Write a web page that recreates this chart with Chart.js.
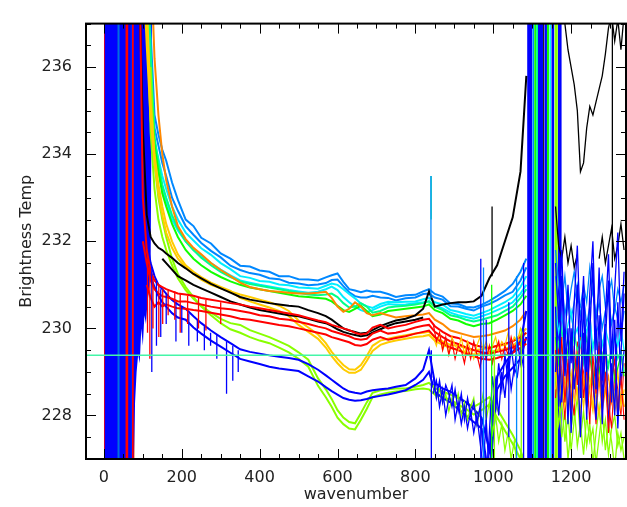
<!DOCTYPE html>
<html>
<head>
<meta charset="utf-8">
<script src="https://cdn.jsdelivr.net/npm/chart.js@4.4.1/dist/chart.umd.min.js"></script>
<style>
  html, body { margin: 0; padding: 0; background: #fff; }
  canvas { display: block; }
</style>
</head>
<body>
<canvas id="myChart" width="627" height="507"></canvas>
<script>
// wavenumber grid for the smooth part of the spectra
const X = [92, 100, 110, 120, 130, 140, 150, 160, 175, 190,
  210, 230, 250, 275, 300, 325, 350, 375, 400, 425,
  450, 475, 500, 525, 550, 570, 585, 600, 615, 630,
  645, 660, 675, 690, 710, 730, 750, 775, 800, 820,
  835, 850, 870, 890, 910, 930, 950, 970, 990, 1010,
  1030, 1050, 1070, 1085];
// finer grid for the noisy stretch before the saturated band
const XN = [846, 854, 862, 870, 878, 886, 894, 902, 910, 918, 926, 934, 942, 950, 958,
  966, 974, 982, 990, 998, 1006, 1014, 1022, 1030, 1038, 1046, 1054, 1062, 1070, 1078];
// wavenumber grid for the noisy end
const XR = [1160, 1168, 1176, 1184, 1192, 1200, 1208, 1216, 1224, 1232, 1240, 1248,
  1256, 1264, 1272, 1280, 1288, 1296, 1304, 1312, 1320, 1328, 1336];

const skyBlue1 = [null, null, 239.0, 236.8, 234.9, 234.45, 234.1, 233.85, 233.35, 232.95,
  232.5, 232.35, 232.08, 231.95, 231.72, 231.6, 231.44, 231.42, 231.33, 231.3,
  231.2, 231.2, 231.13, 231.12, 231.1, 231.17, 231.22, 231.26, 231.07, 230.9,
  230.87, 230.83, 230.87, 230.84, 230.84, 230.79, 230.72, 230.76, 230.77, 230.85,
  230.9, 230.79, 230.73, 230.57, 230.56, 230.49, 230.48, 230.54, 230.63, 230.74,
  230.86, 231.02, 231.3, 231.6];
const skyBlue2 = [null, null, 238.5, 236.2, 234.6, 234.2, 233.8, 233.5, 233.0, 232.7,
  232.35, 232.15, 231.96, 231.78, 231.63, 231.44, 231.34, 231.27, 231.23, 231.15,
  231.13, 231.05, 231.03, 230.99, 231.01, 231.04, 231.11, 231.12, 230.97, 230.83,
  230.74, 230.71, 230.71, 230.75, 230.71, 230.7, 230.64, 230.69, 230.71, 230.79,
  230.8, 230.71, 230.66, 230.51, 230.5, 230.45, 230.41, 230.5, 230.56, 230.65,
  230.76, 230.84, 231.1, 231.4];
const cyan1 = [null, 239.0, 237.2, 236.0, 234.3, 233.9, 233.5, 233.2, 232.8, 232.5,
  232.2, 232.02, 231.84, 231.69, 231.5, 231.36, 231.2, 231.16, 231.09, 231.07,
  231.01, 230.99, 230.94, 230.93, 230.91, 230.98, 231.03, 231.0, 230.9, 230.79,
  230.69, 230.57, 230.51, 230.47, 230.56, 230.61, 230.6, 230.61, 230.62, 230.67,
  230.7, 230.6, 230.55, 230.42, 230.38, 230.33, 230.29, 230.35, 230.42, 230.51,
  230.6, 230.72, 230.95, 231.2];
const cyan2 = [null, null, 238.0, 235.5, 234.0, 233.6, 233.2, 232.9, 232.5, 232.25,
  232.0, 231.8, 231.66, 231.5, 231.35, 231.22, 231.1, 231.05, 231.0, 230.96,
  230.92, 230.88, 230.85, 230.82, 230.84, 230.9, 230.96, 230.88, 230.72, 230.6,
  230.5, 230.42, 230.38, 230.42, 230.5, 230.56, 230.54, 230.55, 230.58, 230.6,
  230.62, 230.52, 230.46, 230.36, 230.3, 230.26, 230.22, 230.28, 230.34, 230.42,
  230.5, 230.6, 230.8, 231.0];
const spring1 = [null, null, 238.6, 236.4, 234.4, 233.8, 233.3, 233.0, 232.6, 232.3,
  232.0, 231.8, 231.62, 231.45, 231.3, 231.18, 231.08, 231.02, 230.98, 230.94,
  230.9, 230.86, 230.82, 230.78, 230.76, 230.78, 230.8, 230.72, 230.58, 230.48,
  230.5, 230.58, 230.5, 230.36, 230.4, 230.48, 230.5, 230.52, 230.55, 230.58,
  230.62, 230.5, 230.42, 230.3, 230.26, 230.2, 230.16, 230.2, 230.25, 230.3,
  230.4, 230.5, 230.7, 230.9];
const green1 = [null, 238.5, 237.0, 235.6, 234.2, 233.6, 233.1, 232.8, 232.4, 232.1,
  231.8, 231.6, 231.45, 231.3, 231.18, 231.08, 231.0, 230.94, 230.9, 230.86,
  230.82, 230.78, 230.74, 230.72, 230.7, 230.68, 230.62, 230.52, 230.42, 230.38,
  230.45, 230.52, 230.4, 230.28, 230.32, 230.4, 230.42, 230.45, 230.48, 230.5,
  230.55, 230.42, 230.35, 230.22, 230.18, 230.1, 230.05, 230.1, 230.12, 230.2,
  230.3, 230.4, 230.55, 230.75];
const orange1 = [null, null, null, 238.6, 236.2, 234.9, 234.0, 233.4, 232.8, 232.35,
  232.05, 231.85, 231.7, 231.5, 231.34, 231.2, 231.05, 230.95, 230.9, 230.86,
  230.84, 230.82, 230.8, 230.8, 230.82, 230.84, 230.7, 230.5, 230.38, 230.45,
  230.6, 230.5, 230.35, 230.3, 230.35, 230.3, 230.25, 230.28, 230.3, 230.32,
  230.35, 230.2, 230.1, 229.95, 229.9, 229.85, 229.8, 229.82, 229.85, 229.9,
  229.95, 230.05, 230.2, 230.4];
const yellow1 = [null, 238.5, 236.5, 234.8, 233.8, 233.1, 232.6, 232.2, 231.85, 231.6,
  231.4, 231.25, 231.12, 231.0, 230.92, 230.85, 230.78, 230.72, 230.66, 230.6,
  230.52, 230.4, 230.18, 230.02, 229.86, 229.66, 229.46, 229.3, 229.16, 229.06,
  229.05, 229.16, 229.36, 229.6, 229.72, 229.76, 229.8, 229.84, 229.88, 229.9,
  229.92, 229.8, 229.7, 229.62, 229.6, 229.55, 229.5, 229.52, 229.55, 229.6,
  229.62, 229.7, 229.85, 230.0];
const yellow2 = [null, null, 237.5, 235.2, 234.0, 233.3, 232.8, 232.4, 232.0, 231.7,
  231.45, 231.3, 231.18, 231.05, 230.95, 230.86, 230.7, 230.62, 230.55, 230.48,
  230.4, 230.28, 230.08, 229.92, 229.76, 229.56, 229.36, 229.2, 229.06, 228.98,
  228.98, 229.05, 229.25, 229.48, 229.62, 229.68, 229.72, 229.76, 229.8, 229.82,
  229.85, 229.72, 229.62, 229.55, 229.5, 229.45, 229.4, 229.42, 229.45, 229.5,
  229.52, 229.6, 229.75, 229.9];
const blackA = [237.5, 234.6, 232.6, 232.1, 231.95, 231.85, 231.8, 231.72, 231.62, 231.5,
  231.38, 231.25, 231.15, 231.02, 230.92, 230.82, 230.72, 230.66, 230.62, 230.58,
  230.55, 230.52, 230.5, 230.42, 230.35, 230.28, 230.2, 230.1, 230.0, 229.95,
  229.92, 229.88, 229.9, 229.96, 230.05, 230.12, 230.18, 230.22, 230.3, 230.45,
  230.85, 230.5, 230.55, 230.58, 230.6, 230.6, 230.62, 230.75, 231.15, 231.45,
  232.0, 232.55, 233.6, 235.8];
const blackB = [null, null, null, null, null, null, 231.6, 231.5, 231.35, 231.2,
  231.1, 231.0, 230.92, 230.82, 230.72, 230.62, 230.55, 230.48, 230.42, 230.38,
  230.34, 230.3, 230.28, 230.22, 230.16, 230.12, 230.06, 229.98, 229.92, 229.88,
  229.85, 229.82, 229.84, 229.9, 229.98, 230.06, 230.12, 230.16, 230.2, 230.25,
  null, null, null, null, null, null, null, null, null, null,
  null, null, null, null];
const red1 = [238.0, 233.0, 231.8, 231.3, 231.1, 231.0, 230.95, 230.9, 230.85, 230.8,
  230.78, 230.75, 230.7, 230.66, 230.62, 230.58, 230.55, 230.5, 230.46, 230.42,
  230.38, 230.34, 230.3, 230.24, 230.18, 230.14, 230.08, 230.04, 230.0, 229.96,
  229.9, 229.86, 229.88, 230.02, 230.08, 230.0, 230.04, 230.08, 230.15, 230.2,
  230.22, 230.05, 229.92, 229.82, 229.78, 229.7, 229.62, 229.58, 229.55, 229.6,
  229.65, 229.7, 229.8, 229.9];
const red2 = [null, 232.0, 231.5, 231.1, 230.9, 230.8, 230.74, 230.72, 230.68, 230.62,
  230.62, 230.58, 230.55, 230.5, 230.46, 230.44, 230.4, 230.36, 230.3, 230.28,
  230.22, 230.2, 230.15, 230.1, 230.04, 230.0, 229.94, 229.9, 229.86, 229.82,
  229.76, 229.74, 229.76, 229.88, 229.95, 229.88, 229.9, 229.95, 230.02, 230.06,
  230.08, 229.92, 229.8, 229.7, 229.64, 229.56, 229.5, 229.45, 229.42, 229.46,
  229.5, 229.56, 229.66, 229.76];
const red3 = [null, null, 231.0, 230.7, 230.5, 230.6, 230.5, 230.55, 230.5, 230.46,
  230.45, 230.42, 230.4, 230.36, 230.32, 230.28, 230.22, 230.2, 230.16, 230.12,
  230.08, 230.05, 230.0, 229.95, 229.9, 229.86, 229.8, 229.76, 229.72, 229.68,
  229.62, 229.6, 229.64, 229.74, 229.8, 229.74, 229.78, 229.82, 229.88, 229.92,
  229.95, 229.8, 229.66, 229.56, 229.5, 229.42, 229.36, 229.3, 229.28, 229.32,
  229.38, 229.44, 229.55, 229.65];
const lgreen1 = [null, null, 237.5, 234.5, 233.2, 232.5, 232.1, 231.8, 231.45, 231.15,
  230.88, 230.68, 230.52, 230.36, 230.22, 230.12, 230.08, 229.96, 229.88, 229.8,
  229.7, 229.6, 229.45, 229.28, 228.85, 228.6, 228.38, 228.12, 227.95, 227.85,
  227.82, 228.05, 228.3, 228.52, 228.58, 228.6, 228.62, 228.62, 228.66, 228.7,
  228.75, 228.62, 228.55, 228.48, 228.4, 228.3, 228.2, 228.3, 228.42, 228.15,
  227.85, 227.55, 227.2, 226.8];
const lgreen2 = [null, null, null, 236.0, 233.8, 233.0, 232.5, 232.1, 231.6, 231.25,
  230.95, 230.72, 230.5, 230.3, 230.12, 229.98, 229.9, 229.8, 229.72, 229.66,
  229.56, 229.45, 229.3, 229.12, 228.68, 228.42, 228.2, 227.95, 227.8, 227.7,
  227.68, 227.9, 228.15, 228.42, 228.48, 228.52, 228.55, 228.56, 228.6, 228.62,
  228.6, 228.48, 228.42, 228.36, 228.25, 228.15, 228.02, 228.12, 228.25, 227.95,
  227.65, 227.35, 227.0, 226.6];
const blue1 = [237.5, 233.5, 232.0, 231.5, 231.2, 231.0, 230.9, 230.8, 230.65, 230.55,
  230.45, 230.28, 230.12, 229.95, 229.8, 229.66, 229.52, 229.46, 229.42, 229.38,
  229.35, 229.32, 229.28, 229.18, 229.05, 228.92, 228.82, 228.72, 228.62, 228.55,
  228.52, 228.5, 228.55, 228.58, 228.6, 228.62, 228.66, 228.7, 228.85, 229.05,
  229.5, 228.75, 228.62, 228.55, 228.42, 228.3, 228.15, 227.95, 227.2, 228.9,
  229.2, 229.45, 229.7, 230.4];
const blue2 = [null, 235.0, 231.6, 231.2, 230.95, 230.75, 230.6, 230.5, 230.35, 230.25,
  230.2, 230.02, 229.88, 229.72, 229.58, 229.44, 229.3, 229.24, 229.18, 229.12,
  229.08, 229.05, 229.02, 228.9, 228.78, 228.65, 228.56, 228.48, 228.4, 228.36,
  228.34, 228.35, 228.38, 228.42, 228.45, 228.48, 228.52, 228.58, 228.7, 228.82,
  229.0, 228.55, 228.4, 228.3, 228.15, 228.0, 227.85, 227.7, 226.5, 228.6,
  228.9, 229.1, 229.3, 229.8];

// noisy stretch 846-1078, sampled on XN
const blueNoise1 = [228.9, 228.4, 228.8, 228.3, 228.7, 228.5, 228.2, 228.6, 228.1, 228.5, 227.9, 228.4, 228.0, 228.3, 227.8,
  228.2, 227.2, 226.5, 227.6, 228.9, 228.3, 229.2, 228.6, 229.4, 228.8, 229.6, 229.0, 229.7, 229.2, 229.9];
const blueNoise2 = [228.5, 228.8, 228.2, 228.6, 228.0, 228.4, 228.7, 227.9, 228.3, 227.8, 228.2, 227.7, 228.1, 227.6, 228.0,
  227.4, 226.8, 227.9, 226.6, 228.2, 228.8, 228.0, 229.0, 228.4, 229.3, 228.6, 229.1, 228.9, 229.5, 229.1];
const lgreenNoise1 = [228.7, 228.4, 228.6, 228.3, 228.5, 228.1, 228.4, 228.2, 228.5, 228.0, 228.3, 227.9, 228.2, 228.4, 227.8,
  228.1, 228.5, 227.9, 228.3, 227.6, 228.0, 227.4, 227.8, 227.2, 227.6, 227.0, 227.4, 226.8, 227.1, 226.6];
const redNoise1 = [230.1, 229.7, 229.9, 229.5, 229.8, 229.4, 229.7, 229.3, 229.6, 229.5, 229.2, 229.6, 229.3, 229.7, 229.4,
  229.1, 229.5, 229.3, 229.6, 229.2, 229.5, 229.7, 229.3, 229.6, 229.4, 229.8, 229.5, 229.7, 229.6, 229.9];
const yellowNoise1 = [229.8, 229.6, 229.9, 229.5, 229.7, 229.4, 229.8, 229.6, 229.5, 229.8, 229.4, 229.7, 229.5, 229.3, 229.6,
  229.8, 229.5, 229.7, 229.4, 229.6, 229.8, 229.5, 229.7, 229.6, 229.9, 229.6, 229.8, 229.7, 230.0, 229.8];

// noisy ends, sampled on XR
const skyBlue1Tail = [231.8, 231.0, 230.6, 231.2, 230.4, 230.9, 231.3, 230.7, 230.5, 231.0, 230.6, 231.4,
  230.8, 230.3, 230.9, 231.2, 230.5, 230.8, 231.1, 230.4, 230.9, 230.6, 231.0];
const skyBlue2Tail = [231.2, 230.5, 231.1, 230.3, 230.8, 230.2, 230.6, 231.0, 230.3, 230.7, 230.1, 230.5,
  230.9, 230.2, 230.6, 230.0, 230.4, 230.7, 230.1, 230.5, 230.2, 229.9, 230.4];
const cyan1Tail = [230.5, 229.9, 230.3, 229.7, 230.1, 230.4, 229.8, 230.0, 229.6, 230.2, 229.9, 230.3,
  229.5, 229.9, 230.1, 229.6, 230.0, 229.7, 229.4, 229.9, 229.6, 230.0, 229.5];
const spring1Tail = [230.2, 229.6, 230.0, 229.4, 229.8, 229.3, 229.9, 229.5, 229.7, 229.2, 229.8, 229.4,
  229.6, 229.9, 229.3, 229.7, 229.5, 229.1, 229.6, 229.8, 229.3, 229.5, 229.0];
const green1Tail = [229.8, 229.2, 229.6, 229.0, 229.5, 229.8, 229.1, 229.4, 228.9, 229.5, 229.2, 229.6,
  228.8, 229.3, 229.0, 229.4, 228.9, 229.2, 229.5, 228.8, 229.1, 229.4, 228.9];
const orange1Tail = [229.2, 228.6, 229.0, 228.4, 228.9, 228.3, 228.8, 229.1, 228.5, 228.9, 228.2, 228.7,
  229.0, 228.4, 228.8, 228.1, 228.6, 228.9, 228.3, 228.7, 228.0, 228.5, 228.2];
const yellow1Tail = [229.0, 228.4, 228.8, 228.2, 228.7, 229.0, 228.3, 228.6, 228.1, 228.8, 228.4, 228.9,
  228.2, 228.6, 228.0, 228.5, 228.9, 228.3, 228.7, 228.1, 228.4, 228.8, 228.2];
const yellow2Tail = [228.6, 229.1, 228.3, 228.9, 228.0, 228.6, 229.2, 228.4, 228.8, 228.2, 228.9, 228.5,
  228.1, 228.7, 229.0, 228.3, 228.6, 228.0, 228.8, 228.4, 229.0, 228.2, 228.6];
const red1Tail = [229.5, 228.6, 229.8, 228.3, 229.2, 228.0, 229.6, 228.7, 229.9, 228.4, 229.1, 227.8,
  229.4, 228.5, 229.7, 228.2, 229.0, 227.6, 228.8, 229.3, 228.1, 228.9, 227.9];
const red2Tail = [228.4, 229.6, 228.9, 227.9, 229.3, 228.5, 228.0, 229.7, 228.6, 229.0, 228.2, 229.4,
  228.7, 227.8, 229.1, 228.8, 229.5, 228.3, 227.7, 229.0, 228.6, 228.0, 229.2];
const lgreen1Tail = [228.6, 227.8, 228.3, 227.4, 228.0, 227.2, 227.9, 228.4, 227.5, 228.1, 227.3, 227.8,
  226.9, 227.6, 228.2, 227.4, 227.9, 227.1, 227.7, 228.0, 227.3, 227.6, 227.0];
const lgreen2Tail = [227.9, 228.4, 227.5, 228.1, 227.0, 227.7, 228.2, 227.3, 227.8, 227.1, 228.0, 227.4,
  227.7, 226.9, 227.5, 228.1, 227.2, 227.8, 227.4, 226.8, 227.6, 227.2, 227.5];
const blue1Tail = [231.5, 230.2, 231.8, 229.6, 231.0, 229.2, 230.6, 231.9, 229.8, 231.2, 229.0, 230.8,
  232.0, 229.5, 231.4, 228.8, 230.3, 231.7, 229.3, 230.9, 232.2, 229.7, 231.3];
const blue2Tail = [229.0, 230.4, 228.3, 229.8, 227.8, 230.0, 228.6, 229.4, 227.5, 229.9, 228.2, 230.5,
  228.9, 227.9, 229.6, 228.4, 230.1, 227.7, 229.2, 228.0, 230.6, 228.7, 229.5];
const blue3Tail = [230.5, 228.2, 231.2, 228.9, 230.0, 227.6, 229.5, 231.0, 228.4, 230.7, 227.9, 229.9,
  231.5, 228.6, 230.3, 227.8, 229.7, 231.1, 228.3, 230.2, 227.7, 229.4, 230.8];
const blackATail = [238.0, 238.0, 237.6, 237.0, 236.4, 236.0, 235.6, 235.0, 233.6, 233.8, 234.6, 235.1,
  234.9, 235.2, 235.5, 235.8, 236.3, 236.9, 237.2, 236.6, 237.1, 236.4, 237.2];
const blackBTail = [232.8, 231.9, 231.6, 232.1, 231.5, 231.9, 231.4, 231.7, null, null, null, null,
  null, null, 231.6, 232.1, 231.5, 231.9, 232.3, 231.6, 231.9, 232.4, 231.8];

// single vertical spikes: wavenumber, high and low value
const spikeX = [840, 840.5, 841, 968, 975, 982, 996, 997, 1003, 1040, 1060, 1072, 1078, 1306,
  112, 118, 126, 141, 151, 165, 182, 196, 215, 243, 262, 300,
  123, 135, 146, 160, 185, 200, 218, 240, 258, 274, 290, 315, 331, 345];
const spikeHigh = [233.5, 233.5, 229.5, 231.6, 231.4, 230.2, 231.0, 232.8, 229.5, 230.6, 231.2, 230.0, 231.5, 237.5,
  231.6, 231.4, 231.2, 231.0, 230.9, 230.9, 230.85, 230.8, 230.75, 230.7, 230.65, 230.6,
  231.4, 231.1, 230.9, 230.8, 230.6, 230.5, 230.35, 230.2, 230.05, 229.9, 229.85, 229.7, 229.6, 229.5];
const spikeLow = [230.7, 232.5, 226.5, 226.5, 226.5, 227.5, 226.5, 231.2, 226.5, 227.5, 226.5, 226.5, 226.5, 231.4,
  229.9, 229.3, 230.0, 229.8, 230.1, 230.3, 230.2, 229.9, 230.1, 230.0, 229.95, 230.1,
  229.0, 229.6, 229.8, 230.1, 229.7, 229.9, 229.6, 229.7, 229.5, 229.6, 229.3, 228.5, 228.8, 229.0];

// saturated ranges, full height (first listed ends up on top)
const leftBandFrom = [0, 35, 37.5, 55, 69, 72, 78, 0];
const leftBandTo = [2.5, 37.5, 40, 63, 70.5, 78, 79.5, 78];
const midBandFrom = [1087, 1100, 1105, 1110, 1115, 1128, 1131, 1138, 1144, 1149, 1157, 1166];
const midBandTo = [1100, 1105, 1110, 1115, 1128, 1131, 1138, 1144, 1149, 1157, 1166, 1176];
// lower edge of the saturated blue just after the left band
const curtainX = [76, 80, 84, 88, 92, 96, 100, 104, 108, 112, 116, 120, 124];
const curtainY = [226.5, 228.3, 229.0, 229.4, 229.2, 230.0, 229.6, 230.3, 230.1, 230.6, 230.9, 231.4, 237.5];

const refLevel = 229.38;
const xTicks = [0, 200, 400, 600, 800, 1000, 1200];
const yTicks = [228, 230, 232, 234, 236];

const BLUE = "#0000ff", SKY = "#0088ff", CYAN = "#00eeff", SPRING = "#00ff88",
  GREEN = "#11ff00", LGREEN = "#88ff00", YELLOW = "#ffcc00", ORANGE = "#ff8800",
  RED = "#ff0000", BLACK = "#000000", MINT = "#44f5a8";
const spikeColor = [SKY, SPRING, BLUE, BLUE, SKY, BLUE, GREEN, BLACK, LGREEN, BLUE, SKY, LGREEN, BLUE, BLACK,
  RED, RED, RED, RED, RED, RED, RED, RED, RED, RED, RED, RED,
  BLUE, BLUE, BLUE, BLUE, BLUE, BLUE, BLUE, BLUE, BLUE, BLUE, BLUE, BLUE, BLUE, BLUE];
const leftBandColor = [RED, SPRING, CYAN, RED, CYAN, RED, ORANGE, BLUE];
const midBandColor = [BLUE, SKY, GREEN, SPRING, BLUE, BLACK, BLUE, GREEN, CYAN, BLUE, LGREEN, BLUE];

function pts(xs, ys) {
  return xs.map((x, i) => ({ x: x, y: ys[i] }));
}
function line(color, data, width) {
  return { data: data, borderColor: color, borderWidth: width || 2, pointRadius: 0, fill: false, tension: 0 };
}
function band(color, from, to) {
  return { data: [{ x: from, y: 238 }, { x: to, y: 238 }], borderWidth: 0, pointRadius: 0,
    backgroundColor: color, fill: "start" };
}

// datasets listed first are drawn on top
const datasets = [];
datasets.push(line(MINT, [{ x: -46, y: refLevel }, { x: 1341, y: refLevel }], 1.5));
spikeX.forEach((x, i) => {
  datasets.push(line(spikeColor[i], [{ x: x, y: spikeHigh[i] }, { x: x, y: spikeLow[i] }], 1.3));
});
// right-hand noisy ends
datasets.push(line(BLUE, pts(XR, blue1Tail), 1.3));
datasets.push(line(BLUE, pts(XR, blue3Tail), 1.3));
datasets.push(line(BLACK, pts(XR, blackATail), 1.3));
datasets.push(line(BLACK, pts(XR, blackBTail), 1.3));
datasets.push(line(SKY, pts(XR, skyBlue1Tail), 1.3));
datasets.push(line(CYAN, pts(XR, cyan1Tail), 1.3));
datasets.push(line(RED, pts(XR, red1Tail), 1.1));
datasets.push(line(BLUE, pts(XR, blue2Tail), 1.3));
datasets.push(line(SKY, pts(XR, skyBlue2Tail), 1.3));
datasets.push(line(SPRING, pts(XR, spring1Tail), 1.3));
datasets.push(line(GREEN, pts(XR, green1Tail), 1.3));
datasets.push(line(YELLOW, pts(XR, yellow1Tail), 1.3));
datasets.push(line(ORANGE, pts(XR, orange1Tail), 1.3));
datasets.push(line(YELLOW, pts(XR, yellow2Tail), 1.3));
datasets.push(line(RED, pts(XR, red2Tail), 1.1));
datasets.push(line(LGREEN, pts(XR, lgreen1Tail), 1.3));
datasets.push(line(LGREEN, pts(XR, lgreen2Tail), 1.3));
// noisy stretch before the saturated band
datasets.push(line(BLUE, pts(XN, blueNoise1), 1.3));
datasets.push(line(BLUE, pts(XN, blueNoise2), 1.3));
datasets.push(line(RED, pts(XN, redNoise1), 1.2));
datasets.push(line(YELLOW, pts(XN, yellowNoise1), 1.2));
datasets.push(line(LGREEN, pts(XN, lgreenNoise1), 1.3));
// main spectra
datasets.push(line(RED, pts(X, red1)));
datasets.push(line(RED, pts(X, red2)));
datasets.push(line(RED, pts(X, red3)));
datasets.push(line(BLACK, pts(X, blackA)));
datasets.push(line(BLACK, pts(X, blackB)));
datasets.push(line(BLUE, pts(X, blue1)));
datasets.push(line(BLUE, pts(X, blue2)));
datasets.push(line(YELLOW, pts(X, yellow1)));
datasets.push(line(YELLOW, pts(X, yellow2)));
datasets.push(line(ORANGE, pts(X, orange1)));
datasets.push(line(LGREEN, pts(X, lgreen1)));
datasets.push(line(LGREEN, pts(X, lgreen2)));
datasets.push(line(GREEN, pts(X, green1)));
datasets.push(line(SPRING, pts(X, spring1)));
datasets.push(line(CYAN, pts(X, cyan1)));
datasets.push(line(CYAN, pts(X, cyan2)));
datasets.push(line(SKY, pts(X, skyBlue1)));
datasets.push(line(SKY, pts(X, skyBlue2)));
datasets.push({ data: pts(curtainX, curtainY), borderWidth: 0, pointRadius: 0, backgroundColor: BLUE, fill: "end" });
midBandFrom.forEach((f, i) => datasets.push(band(midBandColor[i], f, midBandTo[i])));
leftBandFrom.forEach((f, i) => datasets.push(band(leftBandColor[i], f, leftBandTo[i])));

// IDL style frame with inward ticks on all four sides
const frame = {
  id: "frame",
  afterDatasetsDraw(chart) {
    const { ctx, chartArea: a, scales: { x, y } } = chart;
    ctx.save();
    ctx.strokeStyle = "#000";
    ctx.lineWidth = 1;
    ctx.beginPath();
    for (let v = Math.ceil(x.min / 50) * 50; v <= x.max; v += 50) {
      const px = Math.round(x.getPixelForValue(v)) + 0.5;
      const len = xTicks.includes(v) ? 10 : 5;
      ctx.moveTo(px, a.bottom); ctx.lineTo(px, a.bottom - len);
      ctx.moveTo(px, a.top); ctx.lineTo(px, a.top + len);
    }
    for (let k = 0; y.min + k * 0.5 <= y.max; k++) {
      const v = y.min + k * 0.5;
      const py = Math.round(y.getPixelForValue(v)) + 0.5;
      const len = yTicks.includes(v) ? 10 : 5;
      ctx.moveTo(a.left, py); ctx.lineTo(a.left + len, py);
      ctx.moveTo(a.right, py); ctx.lineTo(a.right - len, py);
    }
    ctx.stroke();
    ctx.lineWidth = 2;
    ctx.strokeRect(a.left, a.top, a.right - a.left, a.bottom - a.top);
    ctx.restore();
  }
};

const font = { family: "DejaVu Sans", size: 16 };
new Chart("myChart", {
  type: "line",
  data: { datasets: datasets },
  plugins: [frame],
  options: {
    responsive: false,
    animation: false,
    devicePixelRatio: 1,
    layout: { padding: { top: 4, right: 1, left: 0, bottom: 0 } },
    plugins: { legend: { display: false }, tooltip: { enabled: false } },
    scales: {
      x: {
        type: "linear",
        min: -46,
        max: 1341,
        grid: { display: false, drawTicks: false },
        border: { display: false },
        ticks: { font: font, color: "#222", padding: 9, maxRotation: 0, callback: (v) => String(v) },
        title: { display: true, text: "wavenumber", font: font, color: "#222", padding: { top: 0, bottom: 3 } },
        afterBuildTicks: (s) => { s.ticks = xTicks.map((v) => ({ value: v })); },
        afterFit: (s) => { s.height = 48; }
      },
      y: {
        min: 227,
        max: 237,
        grid: { display: false, drawTicks: false },
        border: { display: false },
        ticks: { font: font, color: "#222", padding: 14, callback: (v) => String(v) },
        title: { display: true, text: "Brightness Temp", font: font, color: "#222", padding: { top: 17, bottom: 0 } },
        afterBuildTicks: (s) => { s.ticks = yTicks.map((v) => ({ value: v })); },
        afterFit: (s) => { s.width = 86; }
      }
    }
  }
});
</script>
</body>
</html>
